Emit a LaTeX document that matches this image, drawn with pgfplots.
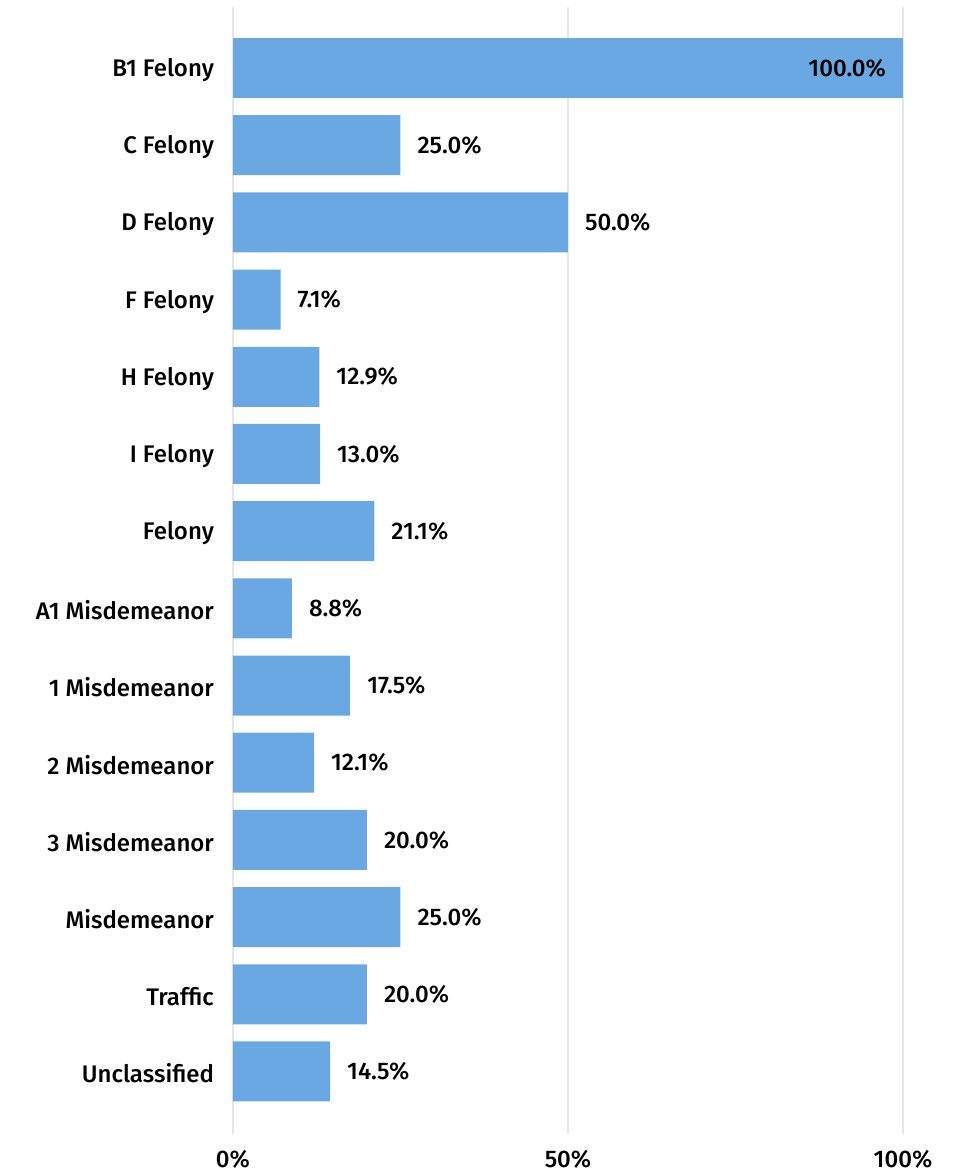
\documentclass[border=0pt]{standalone}
\usepackage{fontspec}
\setmainfont{Fira Sans}[UprightFont=* Medium]
\usepackage{pgfplots}
\pgfplotsset{compat=1.18}
\definecolor{barblue}{HTML}{69A8E3}
\definecolor{gridgray}{HTML}{E6E6E6}
\begin{document}
\begin{tikzpicture}
\begin{axis}[
    at={(0,0)}, anchor=south west,
    scale only axis,
    width=335pt, height=563.5pt,
    xbar, bar width=30pt,
    xmin=0, xmax=100,
    ymin=-0.79, ymax=13.81,
    y dir=reverse,
    axis line style={draw=none},
    major tick length=0pt,
    xmajorgrids, major grid style={gridgray, line width=0.75pt},
    xtick={0,50,100},
    xticklabels={0\%,50\%,100\%},
    ytick={0,...,13},
    yticklabels={B1 Felony,C Felony,D Felony,F Felony,H Felony,I Felony,Felony,A1 Misdemeanor,1 Misdemeanor,2 Misdemeanor,3 Misdemeanor,Misdemeanor,Traffic,Unclassified},
    xticklabel style={yshift=-4.5pt},
    yticklabel style={xshift=-6pt, yshift=-1pt},
    tick label style={font=\fontsize{12}{14}\selectfont},
    /pgf/number format/assume math mode=true,
    point meta=x,
    every node near coord/.append style={font=\fontsize{12}{14}\selectfont, black},
]
\addplot[fill=barblue, draw=none, bar shift=0pt,
    nodes near coords={\pgfmathprintnumber[fixed,fixed zerofill,precision=1]{\pgfplotspointmeta}\%},
    nodes near coords align={horizontal},
    every node near coord/.append style={anchor=west, xshift=5pt}]
coordinates {
    (25.0,1) (50.0,2) (7.1,3) (12.9,4) (13.0,5) (21.1,6) (8.8,7)
    (17.5,8) (12.1,9) (20.0,10) (25.0,11) (20.0,12) (14.5,13)
};
\addplot[fill=barblue, draw=none, bar shift=0pt,
    nodes near coords={\pgfmathprintnumber[fixed,fixed zerofill,precision=1]{\pgfplotspointmeta}\%},
    nodes near coords align={horizontal},
    every node near coord/.append style={anchor=east, xshift=-5pt}]
coordinates {(100.0,0)};
\end{axis}
\pgfresetboundingbox
\path[use as bounding box] (-116.5pt,-19.5pt) rectangle (366.5pt,567pt);
\end{tikzpicture}
\end{document}
